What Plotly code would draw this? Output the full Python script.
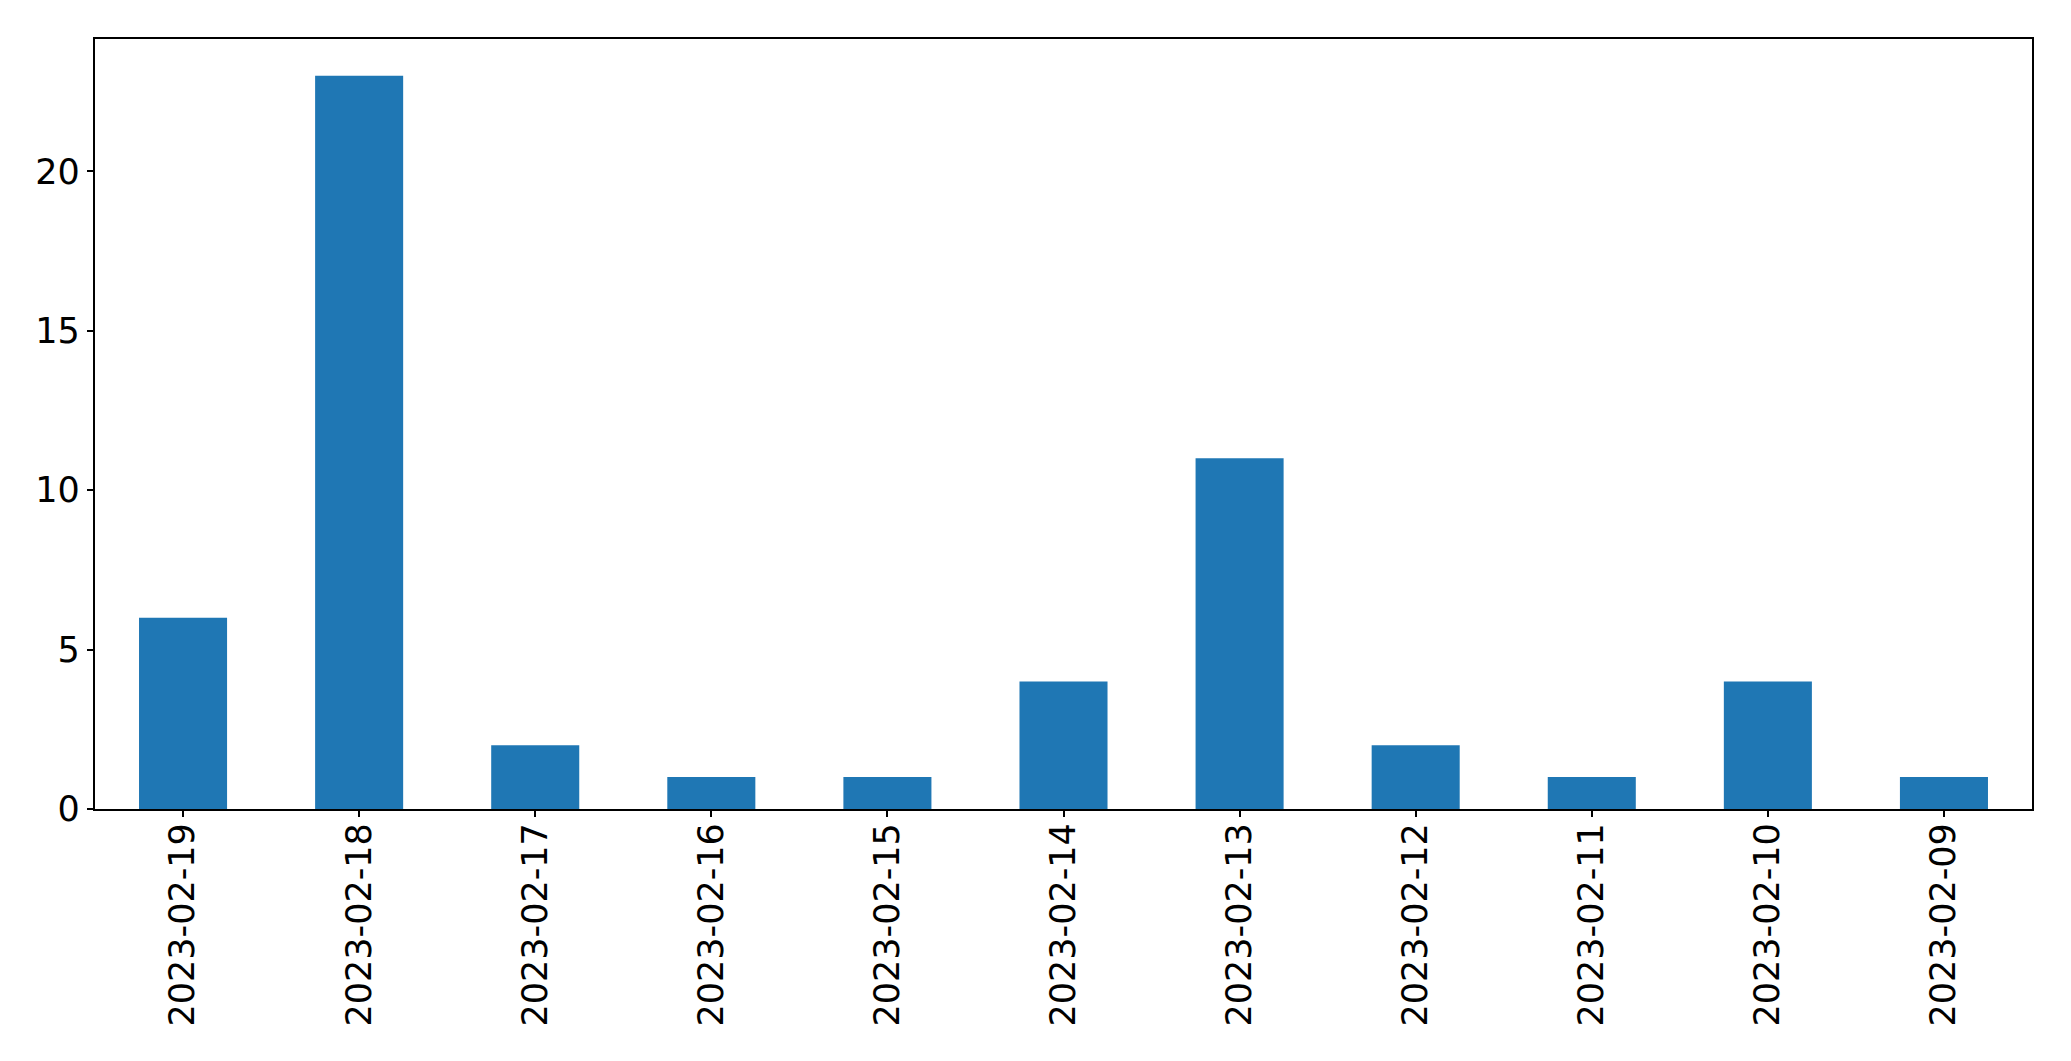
import plotly.graph_objects as go

dates = ["2023-02-19", "2023-02-18", "2023-02-17", "2023-02-16", "2023-02-15",
         "2023-02-14", "2023-02-13", "2023-02-12", "2023-02-11", "2023-02-10", "2023-02-09"]
counts = [6, 23, 2, 1, 1, 4, 11, 2, 1, 4, 1]

fig = go.Figure(go.Bar(x=dates, y=counts, marker_color="#1f77b4", marker_line_width=0))

font = dict(family="DejaVu Sans", size=35, color="black")
fig.update_layout(
    width=2071, height=1061,
    margin=dict(l=94.5, r=39.3, t=39.3, b=251.7, autoexpand=False),
    paper_bgcolor="white", plot_bgcolor="white",
    bargap=0.5, showlegend=False, font=font,
)
fig.update_xaxes(
    type="category", range=[-0.5, len(dates) - 0.5], tickangle=-90,
    showline=True, linecolor="black", linewidth=1.5, mirror=True,
    ticks="outside", ticklen=6.4, tickwidth=1.5, tickcolor="black",
    showgrid=False, tickfont=font, automargin=False, ticklabelstandoff=-8,
)
fig.update_yaxes(
    range=[0, 24.15], tickvals=[0, 5, 10, 15, 20],
    showline=True, linecolor="black", linewidth=1.5, mirror=True,
    ticks="outside", ticklen=6.4, tickwidth=1.5, tickcolor="black",
    showgrid=False, zeroline=False, tickfont=font, automargin=False,
)
fig.write_html("out.html", config={"displayModeBar": False},
               post_script="document.body.style.margin='0';")
